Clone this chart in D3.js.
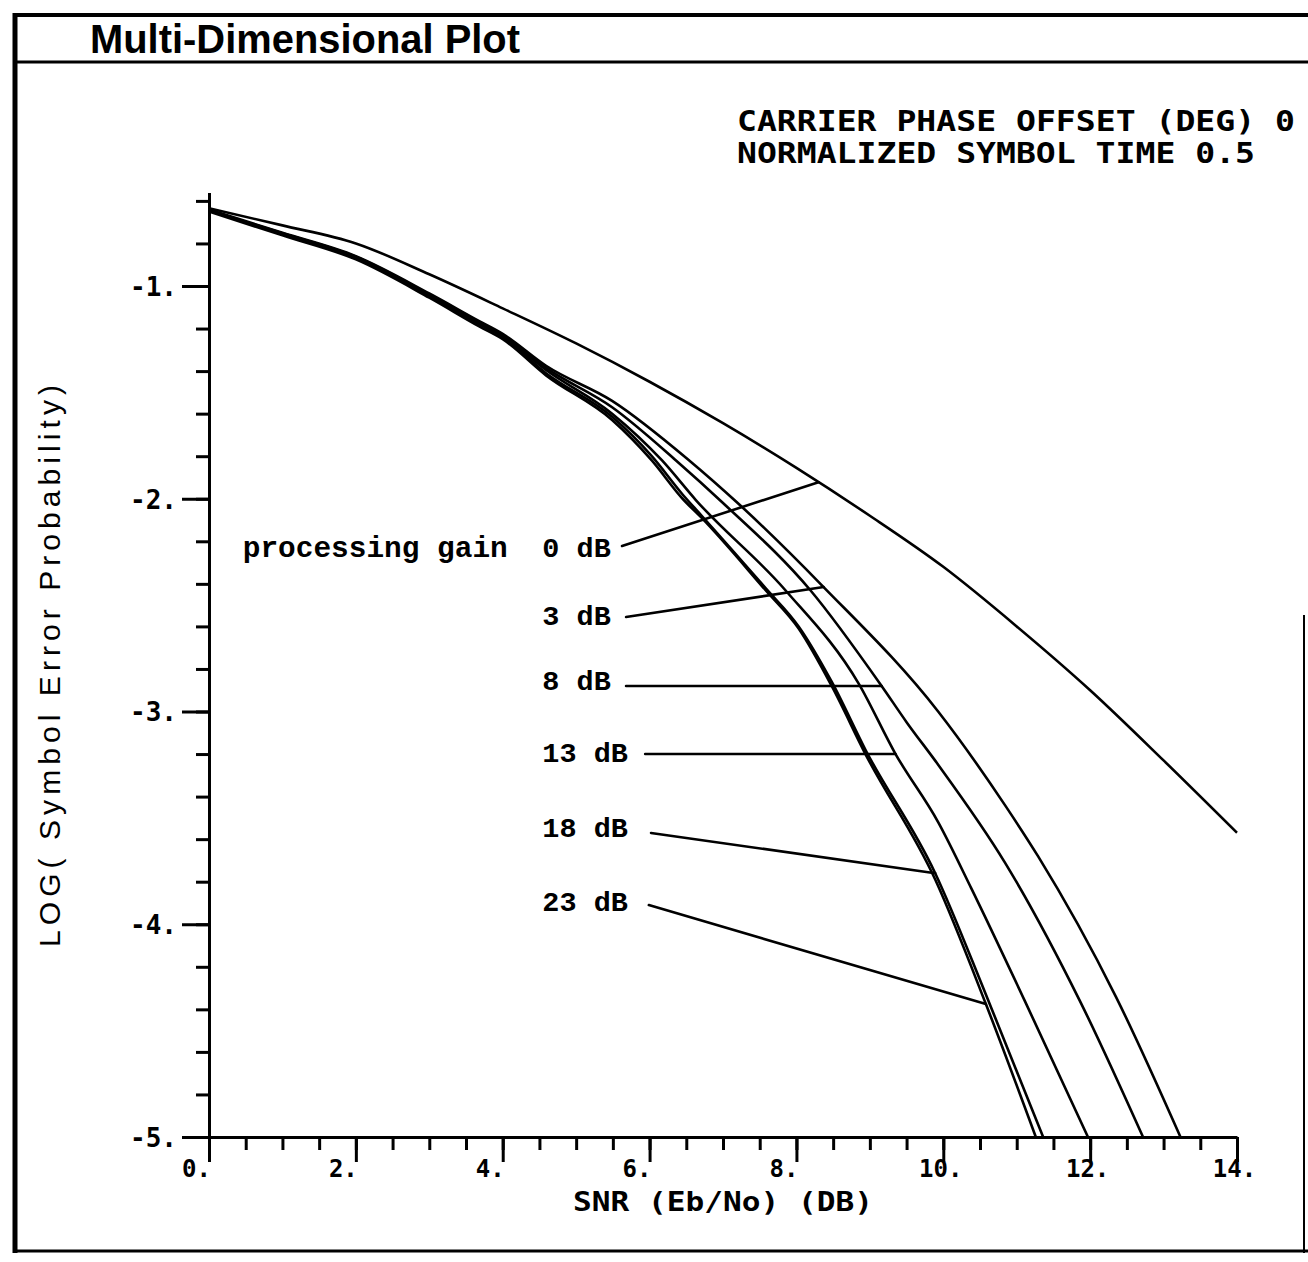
<!DOCTYPE html>
<html>
<head>
<meta charset="utf-8">
<script src="https://cdn.jsdelivr.net/npm/d3@7"></script>
<style>
  html, body { margin: 0; padding: 0; background: #fff; }
  svg { display: block; }
</style>
</head>
<body>
<svg id="chart" width="1308" height="1262"></svg>
<script>
// ---------------- DATA ----------------
const gainLabels = ["0 dB", "3 dB", "8 dB", "13 dB", "18 dB", "23 dB"];

const snr0  = [0, 1, 2, 3, 4, 5, 6, 7, 8, 9, 10, 11, 12, 13, 14];
const logPe0 = [-0.635, -0.715, -0.80, -0.945, -1.105, -1.27, -1.45, -1.645, -1.855, -2.08, -2.32, -2.60, -2.90, -3.23, -3.57];

const snr3  = [0, 1, 2, 3, 3.68, 4, 4.59, 5.49, 6.54, 7.2, 8.37, 9.93, 10.84, 11.29, 12.35, 13.23];
const logPe3 = [-0.64, -0.75, -0.86, -1.035, -1.165, -1.225, -1.375, -1.54, -1.82, -2.02, -2.415, -3.0, -3.44, -3.68, -4.34, -5];

const snr8  = [0, 1, 2, 3, 3.68, 4, 4.59, 5.49, 6.36, 7.0, 8.19, 9.16, 9.5, 9.93, 10.84, 11.86, 12.72];
const logPe8 = [-0.645, -0.752, -0.862, -1.04, -1.17, -1.23, -1.385, -1.57, -1.82, -2.02, -2.43, -2.88, -3.05, -3.25, -3.71, -4.36, -5];

const snr13  = [0, 1, 2, 3, 3.68, 4, 4.59, 5.49, 6.17, 6.63, 7.85, 8.85, 9.35, 9.93, 10.38, 11.11, 11.97];
const logPe13 = [-0.645, -0.755, -0.865, -1.045, -1.175, -1.235, -1.395, -1.60, -1.82, -2.006, -2.43, -2.87, -3.20, -3.52, -3.83, -4.36, -5];

const snr18  = [0, 1, 2, 3, 3.68, 4, 4.59, 5.49, 6.03, 6.45, 6.71, 7.58, 8.03, 8.48, 8.94, 9.89, 10.58, 11.36];
const logPe18 = [-0.645, -0.755, -0.867, -1.048, -1.18, -1.24, -1.41, -1.615, -1.80, -1.98, -2.08, -2.42, -2.60, -2.86, -3.18, -3.76, -4.33, -5];

const snr23  = [0, 1, 2, 3, 3.68, 4, 4.59, 5.49, 6.03, 6.45, 6.71, 7.58, 8.03, 8.48, 8.94, 9.89, 10.58, 11.26];
const logPe23 = [-0.65, -0.762, -0.875, -1.055, -1.19, -1.25, -1.42, -1.63, -1.82, -2.0, -2.09, -2.43, -2.61, -2.88, -3.2, -3.79, -4.375, -5];

const xTickLabels = ["0.", "2.", "4.", "6.", "8.", "10.", "12.", "14."];
const yTickLabels = ["-1.", "-2.", "-3.", "-4.", "-5."];

// annotation anchors (in data units)
const labelLogPe      = [-2.274, -2.593, -2.899, -3.237, -3.59, -3.938];
const leaderStartSnr  = [5.625, 5.68, 5.68, 5.94, 6.02, 5.99];
const leaderStartLog  = [-2.222, -2.556, -2.88, -3.20, -3.571, -3.91];
const leaderEndSnr    = [8.30, 8.37, 9.16, 9.35, 9.89, 10.58];

// ---------------- CHART ----------------
const svg = d3.select("#chart");
const W = 1308, H = 1262;
svg.append("rect").attr("width", W).attr("height", H).attr("fill", "#fff");

const BLOCK = "'DejaVu Sans Mono', monospace";
const COUR = "'Liberation Mono', 'Courier New', monospace";
const SANS = "'Liberation Sans', Arial, Helvetica, sans-serif";

// frame
const frame = svg.append("g").attr("stroke", "#000").attr("fill", "none");
frame.append("line").attr("x1", 15).attr("x2", 15).attr("y1", 13).attr("y2", 1253).attr("stroke-width", 5);
frame.append("line").attr("x1", 13).attr("x2", W).attr("y1", 15).attr("y2", 15).attr("stroke-width", 4);
frame.append("line").attr("x1", 13).attr("x2", W).attr("y1", 62).attr("y2", 62).attr("stroke-width", 3);
frame.append("line").attr("x1", 13).attr("x2", W).attr("y1", 1251).attr("y2", 1251).attr("stroke-width", 3);
frame.append("line").attr("x1", 1304).attr("x2", 1304).attr("y1", 615).attr("y2", 1253).attr("stroke-width", 2);

svg.append("text").attr("x", 90).attr("y", 53)
  .attr("font-family", SANS).attr("font-size", 41).attr("font-weight", "bold")
  .attr("textLength", 430).attr("lengthAdjust", "spacingAndGlyphs")
  .text("Multi-Dimensional Plot");

// scales
const x = d3.scaleLinear().domain([0, 14]).range([209, 1237]);
const yBase = d3.scaleLinear().domain([-1, -5]).range([286, 1137]);
const y = d3.scaleLinear().domain([-0.56, -5]).range([yBase(-0.56), yBase(-5)]);

// y axis: minor + major ticks
const yMinor = d3.range(-5, -0.55, 0.2).map(v => +v.toFixed(2));
const yMajor = [-1, -2, -3, -4, -5];
const gy = svg.append("g").attr("transform", `translate(${x(0)},0)`);
gy.call(d3.axisLeft(y).tickValues(yMinor).tickSize(13).tickSizeOuter(0).tickFormat(""));
const gyM = svg.append("g").attr("transform", `translate(${x(0)},0)`);
gyM.call(d3.axisLeft(y).tickValues(yMajor).tickSize(27).tickSizeOuter(0)
  .tickFormat((d, i) => yTickLabels[i]));
[gy, gyM].forEach(g => {
  g.selectAll("path, line").attr("stroke", "#000").attr("stroke-width", 3);
});
gyM.select(".domain").remove();
gyM.selectAll("text").attr("font-family", BLOCK).attr("font-weight", "bold")
  .attr("font-size", 26).attr("fill", "#000").attr("x", -32).attr("dy", "0.36em");

// x axis
const xMinor = d3.range(0, 14.01, 0.5);
const xMajor = d3.range(0, 14.01, 2);
const gx = svg.append("g").attr("transform", `translate(0,${y(-5)})`);
gx.call(d3.axisBottom(x).tickValues(xMinor).tickSize(13).tickSizeOuter(0).tickFormat(""));
const gxM = svg.append("g").attr("transform", `translate(0,${y(-5)})`);
gxM.call(d3.axisBottom(x).tickValues(xMajor).tickSize(25).tickSizeOuter(0)
  .tickFormat((d, i) => xTickLabels[i]));
[gx, gxM].forEach(g => {
  g.selectAll("path, line").attr("stroke", "#000").attr("stroke-width", 3);
});
gxM.select(".domain").remove();
gxM.selectAll("text")
  .attr("font-family", BLOCK).attr("font-weight", "bold").attr("font-size", 24).attr("fill", "#000")
  .attr("y", 40).attr("dy", 0)
  .attr("text-anchor", "middle")
  .attr("x", (d, i) => xTickLabels[i].length <= 2 ? -13 : -3);

// axis titles
svg.append("text").attr("x", 723).attr("y", 1211)
  .attr("font-family", BLOCK).attr("font-weight", "bold").attr("font-size", 27)
  .attr("text-anchor", "middle").attr("textLength", 300).attr("lengthAdjust", "spacingAndGlyphs")
  .text("SNR (Eb/No) (DB)");

svg.append("text")
  .attr("transform", "translate(60,666) rotate(-90)")
  .attr("font-family", SANS).attr("font-size", 30)
  .attr("text-anchor", "middle").attr("textLength", 562).attr("lengthAdjust", "spacing")
  .text("LOG( Symbol Error Probability)");

// top-right annotation
const info = svg.append("g").attr("font-family", BLOCK).attr("font-weight", "bold")
  .attr("font-size", 29).attr("fill", "#000");
info.append("text").attr("x", 737).attr("y", 131).attr("textLength", 558)
  .attr("lengthAdjust", "spacingAndGlyphs").text("CARRIER PHASE OFFSET (DEG) 0");
info.append("text").attr("x", 737).attr("y", 163).attr("textLength", 518)
  .attr("lengthAdjust", "spacingAndGlyphs").text("NORMALIZED SYMBOL TIME 0.5");

// curves
const series = [
  { name: gainLabels[0], snr: snr0, lp: logPe0 },
  { name: gainLabels[1], snr: snr3, lp: logPe3 },
  { name: gainLabels[2], snr: snr8, lp: logPe8 },
  { name: gainLabels[3], snr: snr13, lp: logPe13 },
  { name: gainLabels[4], snr: snr18, lp: logPe18 },
  { name: gainLabels[5], snr: snr23, lp: logPe23 }
];
const line = d3.line().x(d => x(d[0])).y(d => y(d[1])).curve(d3.curveMonotoneX);
svg.append("g").selectAll("path").data(series).join("path")
  .attr("d", s => line(s.snr.map((v, i) => [v, s.lp[i]])))
  .attr("fill", "none").attr("stroke", "#000").attr("stroke-width", 2.6)
  .attr("stroke-linejoin", "round");

function interp(s, xv) {
  for (let i = 0; i < s.snr.length - 1; i++) {
    if (xv >= s.snr[i] && xv <= s.snr[i + 1]) {
      const t = (xv - s.snr[i]) / (s.snr[i + 1] - s.snr[i]);
      return s.lp[i] + t * (s.lp[i + 1] - s.lp[i]);
    }
  }
  return s.lp[s.lp.length - 1];
}

// labels and leaders
const ann = svg.append("g");
ann.append("text").attr("x", x(0.46)).attr("y", y(labelLogPe[0]))
  .attr("font-family", COUR).attr("font-weight", "bold").attr("font-size", 29)
  .attr("textLength", 265).attr("lengthAdjust", "spacingAndGlyphs")
  .text("processing gain");
series.forEach((s, i) => {
  ann.append("text").attr("x", x(4.54)).attr("y", y(labelLogPe[i]))
    .attr("font-family", COUR).attr("font-weight", "bold").attr("font-size", 28.5)
    .text(s.name);
  ann.append("line")
    .attr("x1", x(leaderStartSnr[i])).attr("y1", y(leaderStartLog[i]))
    .attr("x2", x(leaderEndSnr[i])).attr("y2", y(interp(s, leaderEndSnr[i])))
    .attr("stroke", "#000").attr("stroke-width", 2.6).attr("stroke-linecap", "round");
});
</script>
</body>
</html>
